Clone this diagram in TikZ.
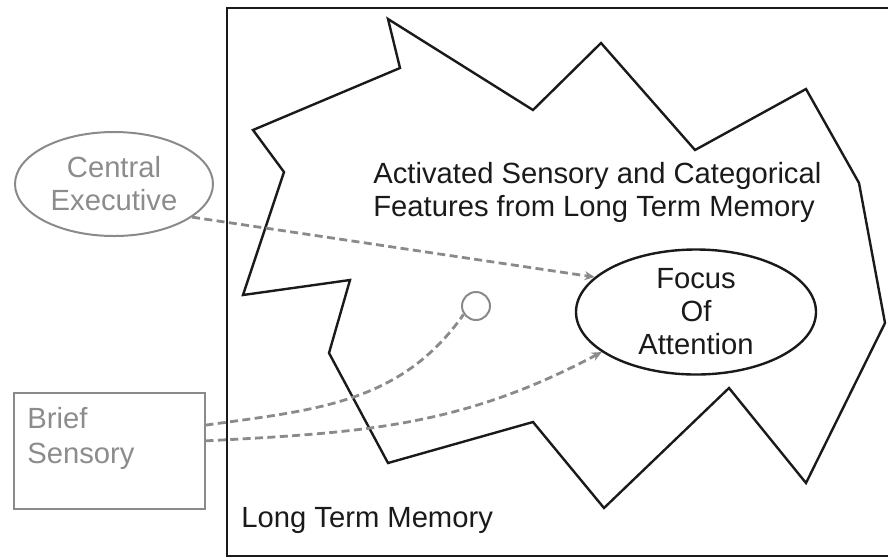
\documentclass[tikz,border=0pt]{standalone}
\usepackage{fontspec}
\setmainfont{Liberation Sans}
\usetikzlibrary{positioning,shapes.geometric,arrows.meta}
\definecolor{linegray}{HTML}{8A8A8A}
\definecolor{textgray}{HTML}{8C8C8C}
\definecolor{inkblack}{HTML}{1A1A1A}

\begin{document}
\begin{tikzpicture}[x=0.5pt,y=0.5pt,
  every node/.style={font=\fontsize{14.6}{16.5}\selectfont,text=inkblack},
  memline/.style={draw=inkblack,line width=1.2pt},
  graybox/.style={draw=linegray,line width=1pt,text=textgray},
  focusnode/.style={ellipse,memline,minimum width=120pt,minimum height=62.5pt,inner sep=0pt,align=center},
  feed/.style={draw=linegray,line width=1.4pt,dash pattern=on 4pt off 2.2pt},
  feedarrow/.style={feed,-{Stealth[length=5pt,width=4.5pt]}}]
\useasboundingbox (0,0) rectangle (888,-559);
\draw[memline] (892,-8) -- (227,-8) -- (227,-556) -- (892,-556);
\draw[memline,line join=miter] (388,-19) -- (400,-68) -- (253,-130) -- (284,-172)
  -- (243,-295) -- (350,-280) -- (329,-353) -- (388,-463) -- (533,-422)
  -- (604,-508) -- (729,-388) -- (806,-483) -- (885,-323) -- (859,-183)
  -- (806,-89) -- (695,-150) -- (601,-43) -- (533,-110) -- cycle;
\node[anchor=north west,inner sep=0pt,align=left] (activated) at (373,-162)
  {Activated Sensory and Categorical\\Features from Long Term Memory};
\node[anchor=base west,inner sep=0pt] (ltm) at (241,-527) {Long Term Memory};
\node[focusnode] (focus) at (696,-312) {Focus\\Of\\Attention};
\node[circle,graybox,minimum size=14pt,inner sep=0pt] (probe) at (476,-306) {};
\node[ellipse,graybox,minimum width=99pt,minimum height=52pt,inner sep=0pt,align=center] (exec) at (114,-184) {Central\\Executive};
\node[rectangle,graybox,minimum width=95.5pt,minimum height=58pt] (brief) at (109,-451) {};
\node[anchor=north west,inner sep=0pt,align=left,text=textgray] (brieftext)
  at ([xshift=7.25pt,yshift=-7.5pt]brief.north west) {Brief\\[1pt]Sensory};
\draw[feedarrow] (exec.-23) -- (focus.161);
\draw[feed] (brief.15) to[out=8,in=235] (probe.214);
\draw[feedarrow] (brief.6) to[out=3,in=208] (focus.203);
\end{tikzpicture}
\end{document}
